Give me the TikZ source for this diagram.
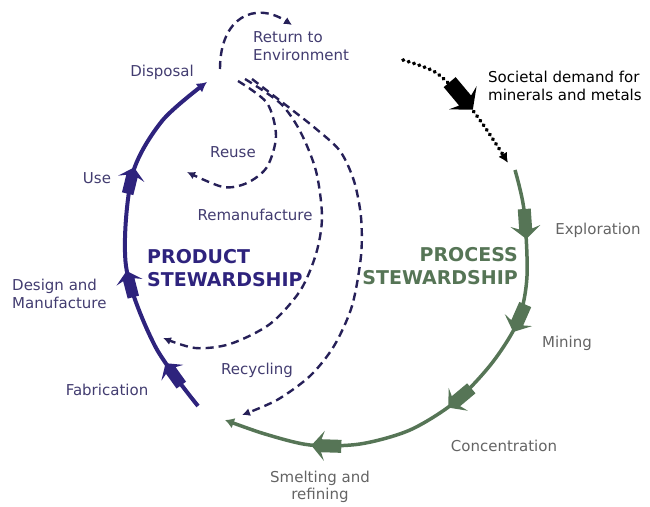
\documentclass[tikz,border=0pt]{standalone}
\usepackage{fontspec}
\setmainfont{DejaVu Sans}
\usepackage{tikz}
\usetikzlibrary{arrows.meta}
\usetikzlibrary{decorations,decorations.markings}
\usepackage{xcolor}
\definecolor{prod-blue}{RGB}{46,35,125}
\definecolor{prod-dash}{RGB}{38,32,88}
\definecolor{prod-text}{RGB}{66,60,112}
\definecolor{proc-green}{RGB}{86,117,86}
\definecolor{proc-text}{RGB}{100,100,100}
\newcommand{\cycfont}{\fontsize{15}{17.5}\selectfont}
\newcommand{\stewfont}{\fontsize{19}{23}\selectfont\bfseries}
\tikzstyle{prodline}=[line width=4pt, color=prod-blue, -{Latex[length=10pt,width=11pt]}]
\tikzstyle{procline}=[line width=3.5pt, color=proc-green, -{Latex[length=9pt,width=11pt]}]
\tikzstyle{loopline}=[line width=2.4pt, color=prod-dash, dash pattern=on 8pt off 5pt, -{Latex[length=8pt,width=8pt]}]
\tikzstyle{demandline}=[line width=3.8pt, black, line cap=round, dash pattern=on 0.6pt off 5pt, -{Latex[length=10pt,width=10pt]}]
\tikzstyle{stagetext}=[font=\cycfont, text=prod-text, inner sep=0pt]
\tikzstyle{proctext}=[font=\cycfont, text=proc-text, inner sep=0pt]
\newcommand{\blockArrow}[2][1]{
	\fill[#2, scale=#1] (-20,-6.5) -- (0,-6.5) -- (-3,-15) -- (10,0) -- (-3,15) -- (0,6.5) -- (-20,6.5) -- cycle;
}

\begin{document}
\begin{tikzpicture}[x=1pt,y=1pt]
	\useasboundingbox (0,0) rectangle (650,506);
	% loose ends
	\coordinate (fabStart) at (198,100);
	\coordinate (dispEnd) at (207,424);
	\coordinate (retStart) at (220,437);
	\coordinate (retEnd) at (292,481);
	\coordinate (reuseStart) at (238,425);
	\coordinate (reuseEnd) at (187,334);
	\coordinate (remanStart) at (245,427);
	\coordinate (remanEnd) at (163,168);
	\coordinate (recycStart) at (252,427);
	\coordinate (recycEnd) at (242,91);
	\coordinate (demandStart) at (403,446);
	\coordinate (demandEnd) at (508,343);
	\coordinate (procStart) at (515,336);
	\coordinate (procEnd) at (225,86);
	% product stewardship
	\draw[prodline, decoration={markings,
		mark=at position 0.12 with {\blockArrow[0.9]{prod-blue}},
		mark=at position 0.39 with {\blockArrow[0.9]{prod-blue}},
		mark=at position 0.67 with {\blockArrow[0.9]{prod-blue}}}, postaction={decorate}]
		plot[smooth] coordinates {(fabStart) (155,160) (126,240) (132,330) (162,385) (dispEnd)};
	\draw[loopline] (retStart) .. controls +(0,52) and +(-37,24) .. (retEnd);
	\draw[loopline] plot[smooth] coordinates {(reuseStart) (267,403) (276,370) (267,339) (247,323) (223,319) (reuseEnd)};
	\draw[loopline] plot[smooth] coordinates {(remanStart) (280,403) (300,375) (316,335) (322,289) (316,252) (300,215) (270,182) (230,162) (195,158) (remanEnd)};
	\draw[loopline] plot[smooth] coordinates {(recycStart) (287,400) (315,378) (340,355) (354,325) (361,289) (361,250) (352,200) (334,160) (310,130) (277,106) (recycEnd)};
	% process stewardship
	\draw[demandline, decoration={markings,
		mark=at position 0.5 with {\blockArrow[1.2]{black}}}, postaction={decorate}]
		plot[smooth] coordinates {(demandStart) (435,434) (462,409) (482,383) (498,359) (demandEnd)};
	\draw[procline, decoration={markings,
		mark=at position 0.12 with {\blockArrow{proc-green}},
		mark=at position 0.31 with {\blockArrow{proc-green}},
		mark=at position 0.51 with {\blockArrow{proc-green}},
		mark=at position 0.80 with {\blockArrow{proc-green}}}, postaction={decorate}]
		plot[smooth] coordinates {(procStart) (524,296) (527,230) (518,185) (492,143) (455,104) (410,76) (360,62) (310,61) (265,72) (procEnd)};
	% labels
	\node[stagetext, align=left, anchor=west] (environment) at (253,460) {Return to\\Environment};
	\node[stagetext] (disposal) at (162,434) {Disposal};
	\node[stagetext] (reuse) at (233,354) {Reuse};
	\node[stagetext] (use) at (97,328) {Use};
	\node[stagetext] (remanufacture) at (255,291) {Remanufacture};
	\node[stagetext, align=left, anchor=west] (design) at (12,212) {Design and\\Manufacture};
	\node[stagetext] (fabrication) at (107,116) {Fabrication};
	\node[stagetext] (recycling) at (257,136) {Recycling};
	\node[font=\stewfont, text=prod-blue, align=left, anchor=west, inner sep=0pt] (prodStew) at (147,238) {PRODUCT\\STEWARDSHIP};
	\node[font=\stewfont, text=proc-green, align=right, anchor=east, inner sep=0pt] (procStew) at (518,240) {PROCESS\\STEWARDSHIP};
	\node[font=\cycfont, align=left, anchor=west, inner sep=0pt] (demand) at (488,420) {Societal demand for\\minerals and metals};
	\node[proctext] (exploration) at (598,276) {Exploration};
	\node[proctext] (mining) at (567,163) {Mining};
	\node[proctext] (concentration) at (504,60) {Concentration};
	\node[proctext, align=center] (smelting) at (320,19) {Smelting and\\refining};
\end{tikzpicture}
\end{document}
